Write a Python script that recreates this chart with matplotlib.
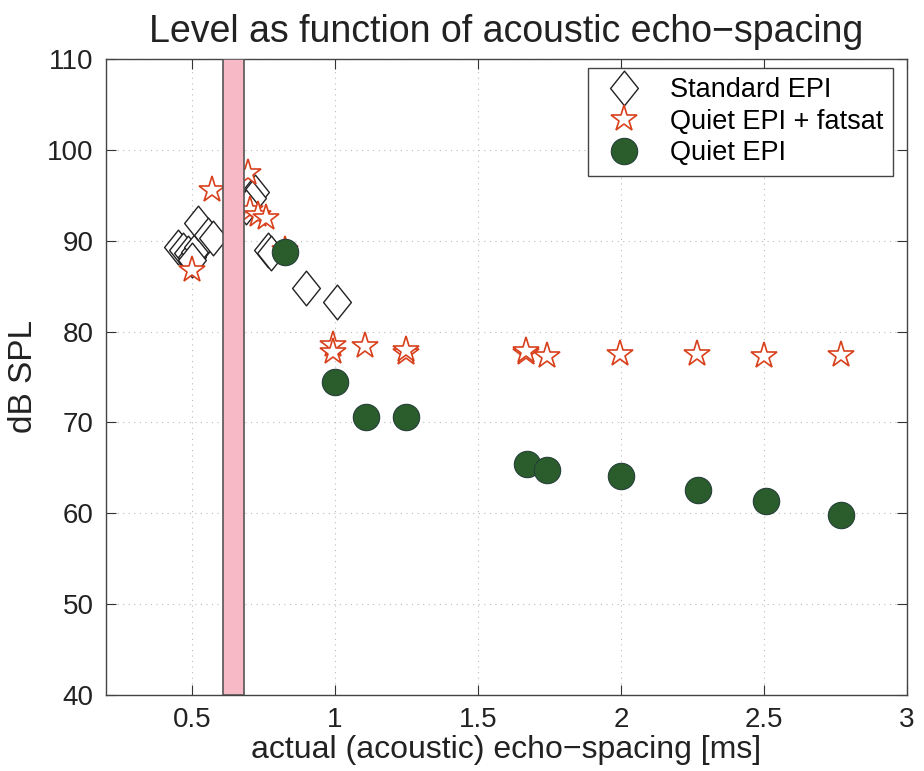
import numpy as np
from matplotlib import pyplot as plt
from matplotlib.path import Path

plt.rcParams['font.family'] = ['Liberation Sans', 'DejaVu Sans']

# Standard EPI (diamonds)
std_x = [0.452, 0.47, 0.487, 0.50, 0.51, 0.522, 0.499, 0.522, 0.557, 0.575,
         0.72, 0.709, 0.69, 0.768, 0.778, 0.898, 1.009]
std_y = [89.3, 89.0, 88.6, 88.2, 88.8, 89.3, 87.9, 92.0, 90.6, 90.3,
         95.4, 94.7, 93.7, 89.0, 88.6, 84.8, 83.2]

# Quiet EPI + fatsat (stars)
fat_x = [0.499, 0.569, 0.697, 0.703, 0.73, 0.761, 0.826, 0.995, 0.995, 1.106,
         1.247, 1.247, 1.667, 1.667, 1.743, 1.998, 2.267, 2.50, 2.768]
fat_y = [86.8, 95.6, 97.4, 93.4, 92.8, 92.5, 89.0, 78.5, 77.8, 78.4,
         77.6, 78.0, 77.6, 77.9, 77.3, 77.5, 77.5, 77.3, 77.4]

# Quiet EPI (filled circles)
q_x = [0.826, 0.999, 1.11, 1.25, 1.671, 1.741, 2.0, 2.269, 2.506, 2.771]
q_y = [88.8, 74.5, 70.6, 70.6, 65.4, 64.8, 64.1, 62.6, 61.4, 59.8]

band = (0.608, 0.682)
xticks = [0.5, 1, 1.5, 2, 2.5, 3]
xticklabels = ['0.5', '1', '1.5', '2', '2.5', '3']
yticks = [40, 50, 60, 70, 80, 90, 100, 110]

# slightly tall diamond like the original
diamond = Path([(0, 1), (0.8, 0), (0, -1), (-0.8, 0), (0, 1)],
               [Path.MOVETO, Path.LINETO, Path.LINETO, Path.LINETO, Path.CLOSEPOLY])

fig = plt.figure(figsize=(9.24, 7.71), dpi=100)
ax = fig.add_axes([0.1147, 0.0986, 0.8669, 0.8249])

ax.plot(std_x, std_y, linestyle='none', marker=diamond, markersize=25,
        markerfacecolor='white', markeredgecolor='#222222', markeredgewidth=1.0,
        label='Standard EPI', zorder=3)
ax.plot(fat_x, fat_y, linestyle='none', marker='*', markersize=20,
        markerfacecolor='white', markeredgecolor='#d8401c', markeredgewidth=1.2,
        label='Quiet EPI + fatsat', zorder=4)
ax.plot(q_x, q_y, linestyle='none', marker='o', markersize=19,
        markerfacecolor='#2a5c2c', markeredgecolor='#253f38', markeredgewidth=0.8,
        label='Quiet EPI', zorder=5)

ax.axvspan(band[0], band[1], facecolor='#f7b9c5', edgecolor='#555555',
           linewidth=1.2, zorder=6)

ax.set_xlim(0.2, 3)
ax.set_ylim(40, 110)
ax.set_xticks(xticks)
ax.set_xticklabels(xticklabels)
ax.set_yticks(yticks)
ax.tick_params(direction='in', length=7, width=0.8, labelsize=20, colors='#333333',
               top=True, right=True, pad=9)
ax.tick_params(labelcolor='#222222')
ax.grid(True, linestyle=(0, (1, 4)), color='#bbbbbb', linewidth=0.8)
for s in ax.spines.values():
    s.set_color('#444444')
    s.set_linewidth(1.0)

ax.set_title('Level as function of acoustic echo\u2212spacing', fontsize=27, pad=12,
             color='#222222')
ax.set_xlabel('actual (acoustic) echo\u2212spacing [ms]', fontsize=23, labelpad=1,
              color='#222222')
ax.set_ylabel('dB SPL', fontsize=24, labelpad=6, color='#222222')

leg = ax.legend(loc='upper right', fontsize=19.5, fancybox=False, framealpha=1,
                edgecolor='#444444', borderpad=0.35, handletextpad=0.7,
                labelspacing=0.2, borderaxespad=0, bbox_to_anchor=(0.9825, 0.986))
leg.get_frame().set_linewidth(1.0)

plt.savefig('out.png', dpi=100)
